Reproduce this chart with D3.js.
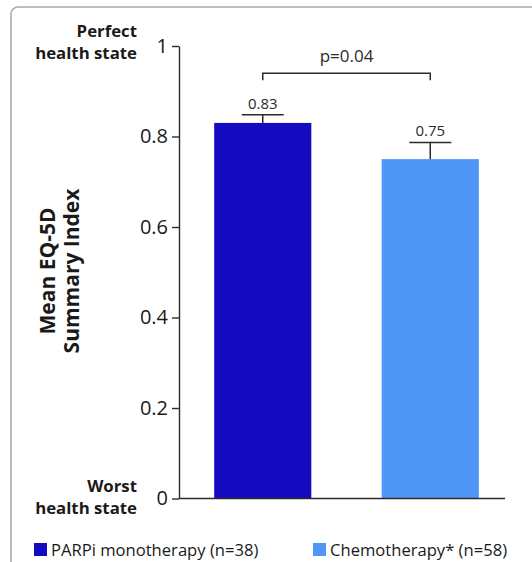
<!DOCTYPE html>
<html>
<head>
<meta charset="utf-8">
<script src="https://cdn.jsdelivr.net/npm/d3@7"></script>
<style>
  html, body { margin: 0; padding: 0; background: #fff; }
  svg { display: block; font-family: "Open Sans", "Noto Sans", sans-serif; }
</style>
</head>
<body>
<svg id="chart" width="532" height="562"></svg>
<script>
// ---- Data ----
const categories = ["PARPi monotherapy (n=38)", "Chemotherapy* (n=58)"];
const means = [0.83, 0.75];
const errorUpper = [0.848, 0.787];
const valueLabels = ["0.83", "0.75"];
const yTicks = [0, 0.2, 0.4, 0.6, 0.8, 1];
const yTickLabels = ["0", "0.2", "0.4", "0.6", "0.8", "1"];
const colors = ["#150ABF", "#5096F7"];
const pValueText = "p=0.04";
const pBracketLevel = 0.94;

const svg = d3.select("#chart");

// panel border
svg.append("rect")
  .attr("x", 11).attr("y", 7)
  .attr("width", 640).attr("height", 640)
  .attr("rx", 7).attr("ry", 7)
  .attr("fill", "none")
  .attr("stroke", "#a8a8a8")
  .attr("stroke-width", 1.5);

const x0 = 179, yBottom = 498.5, yTop = 46;
const y = d3.scaleLinear().domain([0, 1]).range([yBottom, yTop]);
const x = d3.scaleBand().domain(categories)
  .range([x0, 514]).paddingInner(0.42).paddingOuter(0.21);

const ink = "#2b2b2b";

// bars
svg.append("g").selectAll("rect")
  .data(categories)
  .join("rect")
  .attr("x", d => x(d))
  .attr("y", (d, i) => y(means[i]))
  .attr("width", x.bandwidth())
  .attr("height", (d, i) => y(0) - y(means[i]))
  .attr("fill", (d, i) => colors[i]);

// error bars
const eb = svg.append("g").attr("stroke", ink).attr("stroke-width", 1.5);
categories.forEach((c, i) => {
  const cx = x(c) + x.bandwidth() / 2;
  eb.append("line").attr("x1", cx).attr("x2", cx)
    .attr("y1", y(means[i])).attr("y2", y(errorUpper[i]));
  eb.append("line").attr("x1", cx - 21).attr("x2", cx + 21)
    .attr("y1", y(errorUpper[i])).attr("y2", y(errorUpper[i]));
  svg.append("text")
    .attr("x", cx).attr("y", y(errorUpper[i]) - 6)
    .attr("text-anchor", "middle")
    .attr("font-size", 15).attr("fill", ink)
    .text(valueLabels[i]);
});

// y axis
const yAxis = d3.axisLeft(y)
  .tickValues(yTicks)
  .tickFormat((d, i) => yTickLabels[i])
  .tickSize(7).tickSizeOuter(0).tickPadding(4);
const gy = svg.append("g").attr("transform", `translate(${x0},0)`).call(yAxis);
gy.select(".domain").attr("stroke", ink).attr("stroke-width", 1.4);
gy.selectAll(".tick line").attr("stroke", ink).attr("stroke-width", 1.4);
gy.selectAll(".tick text").attr("font-size", 20).attr("fill", "#1a1a1a")
  .attr("font-family", "\"Open Sans\", sans-serif");

// x axis baseline
svg.append("line")
  .attr("x1", x0).attr("x2", 505)
  .attr("y1", y(0)).attr("y2", y(0))
  .attr("stroke", ink).attr("stroke-width", 1.4);

// significance bracket
const c1 = x(categories[0]) + x.bandwidth() / 2;
const c2 = x(categories[1]) + x.bandwidth() / 2;
const yb = y(pBracketLevel);
svg.append("path")
  .attr("d", `M${c1},${yb + 7}V${yb}H${c2}V${yb + 7}`)
  .attr("fill", "none").attr("stroke", ink).attr("stroke-width", 1.5);
svg.append("text")
  .attr("x", (c1 + c2) / 2).attr("y", yb - 11)
  .attr("text-anchor", "middle")
  .attr("font-size", 17).attr("fill", ink)
  .text(pValueText);

// end labels
const endLabel = (lines, yBase) => {
  const t = svg.append("text")
    .attr("text-anchor", "end")
    .attr("font-size", 16.8).attr("font-weight", "bold").attr("fill", "#1a1a1a");
  lines.forEach((l, i) => t.append("tspan").attr("x", 137).attr("y", yBase + i * 22.5).text(l));
};
endLabel(["Perfect", "health state"], 36.5);
endLabel(["Worst", "health state"], 491.5);

// y axis title
const yt = svg.append("text")
  .attr("transform", "translate(0,271) rotate(-90)")
  .attr("text-anchor", "middle")
  .attr("font-size", 21).attr("font-weight", "bold").attr("fill", "#1a1a1a");
yt.append("tspan").attr("x", 0).attr("y", 55).text("Mean EQ-5D");
yt.append("tspan").attr("x", 0).attr("y", 79).text("Summary Index");

// legend
const legendX = [34, 313];
categories.forEach((c, i) => {
  svg.append("rect")
    .attr("x", legendX[i]).attr("y", 543)
    .attr("width", 13).attr("height", 13)
    .attr("fill", colors[i]);
  svg.append("text")
    .attr("x", legendX[i] + 17).attr("y", 555.5)
    .attr("font-size", 16.6).attr("fill", "#1a1a1a")
    .text(c);
});
</script>
</body>
</html>
